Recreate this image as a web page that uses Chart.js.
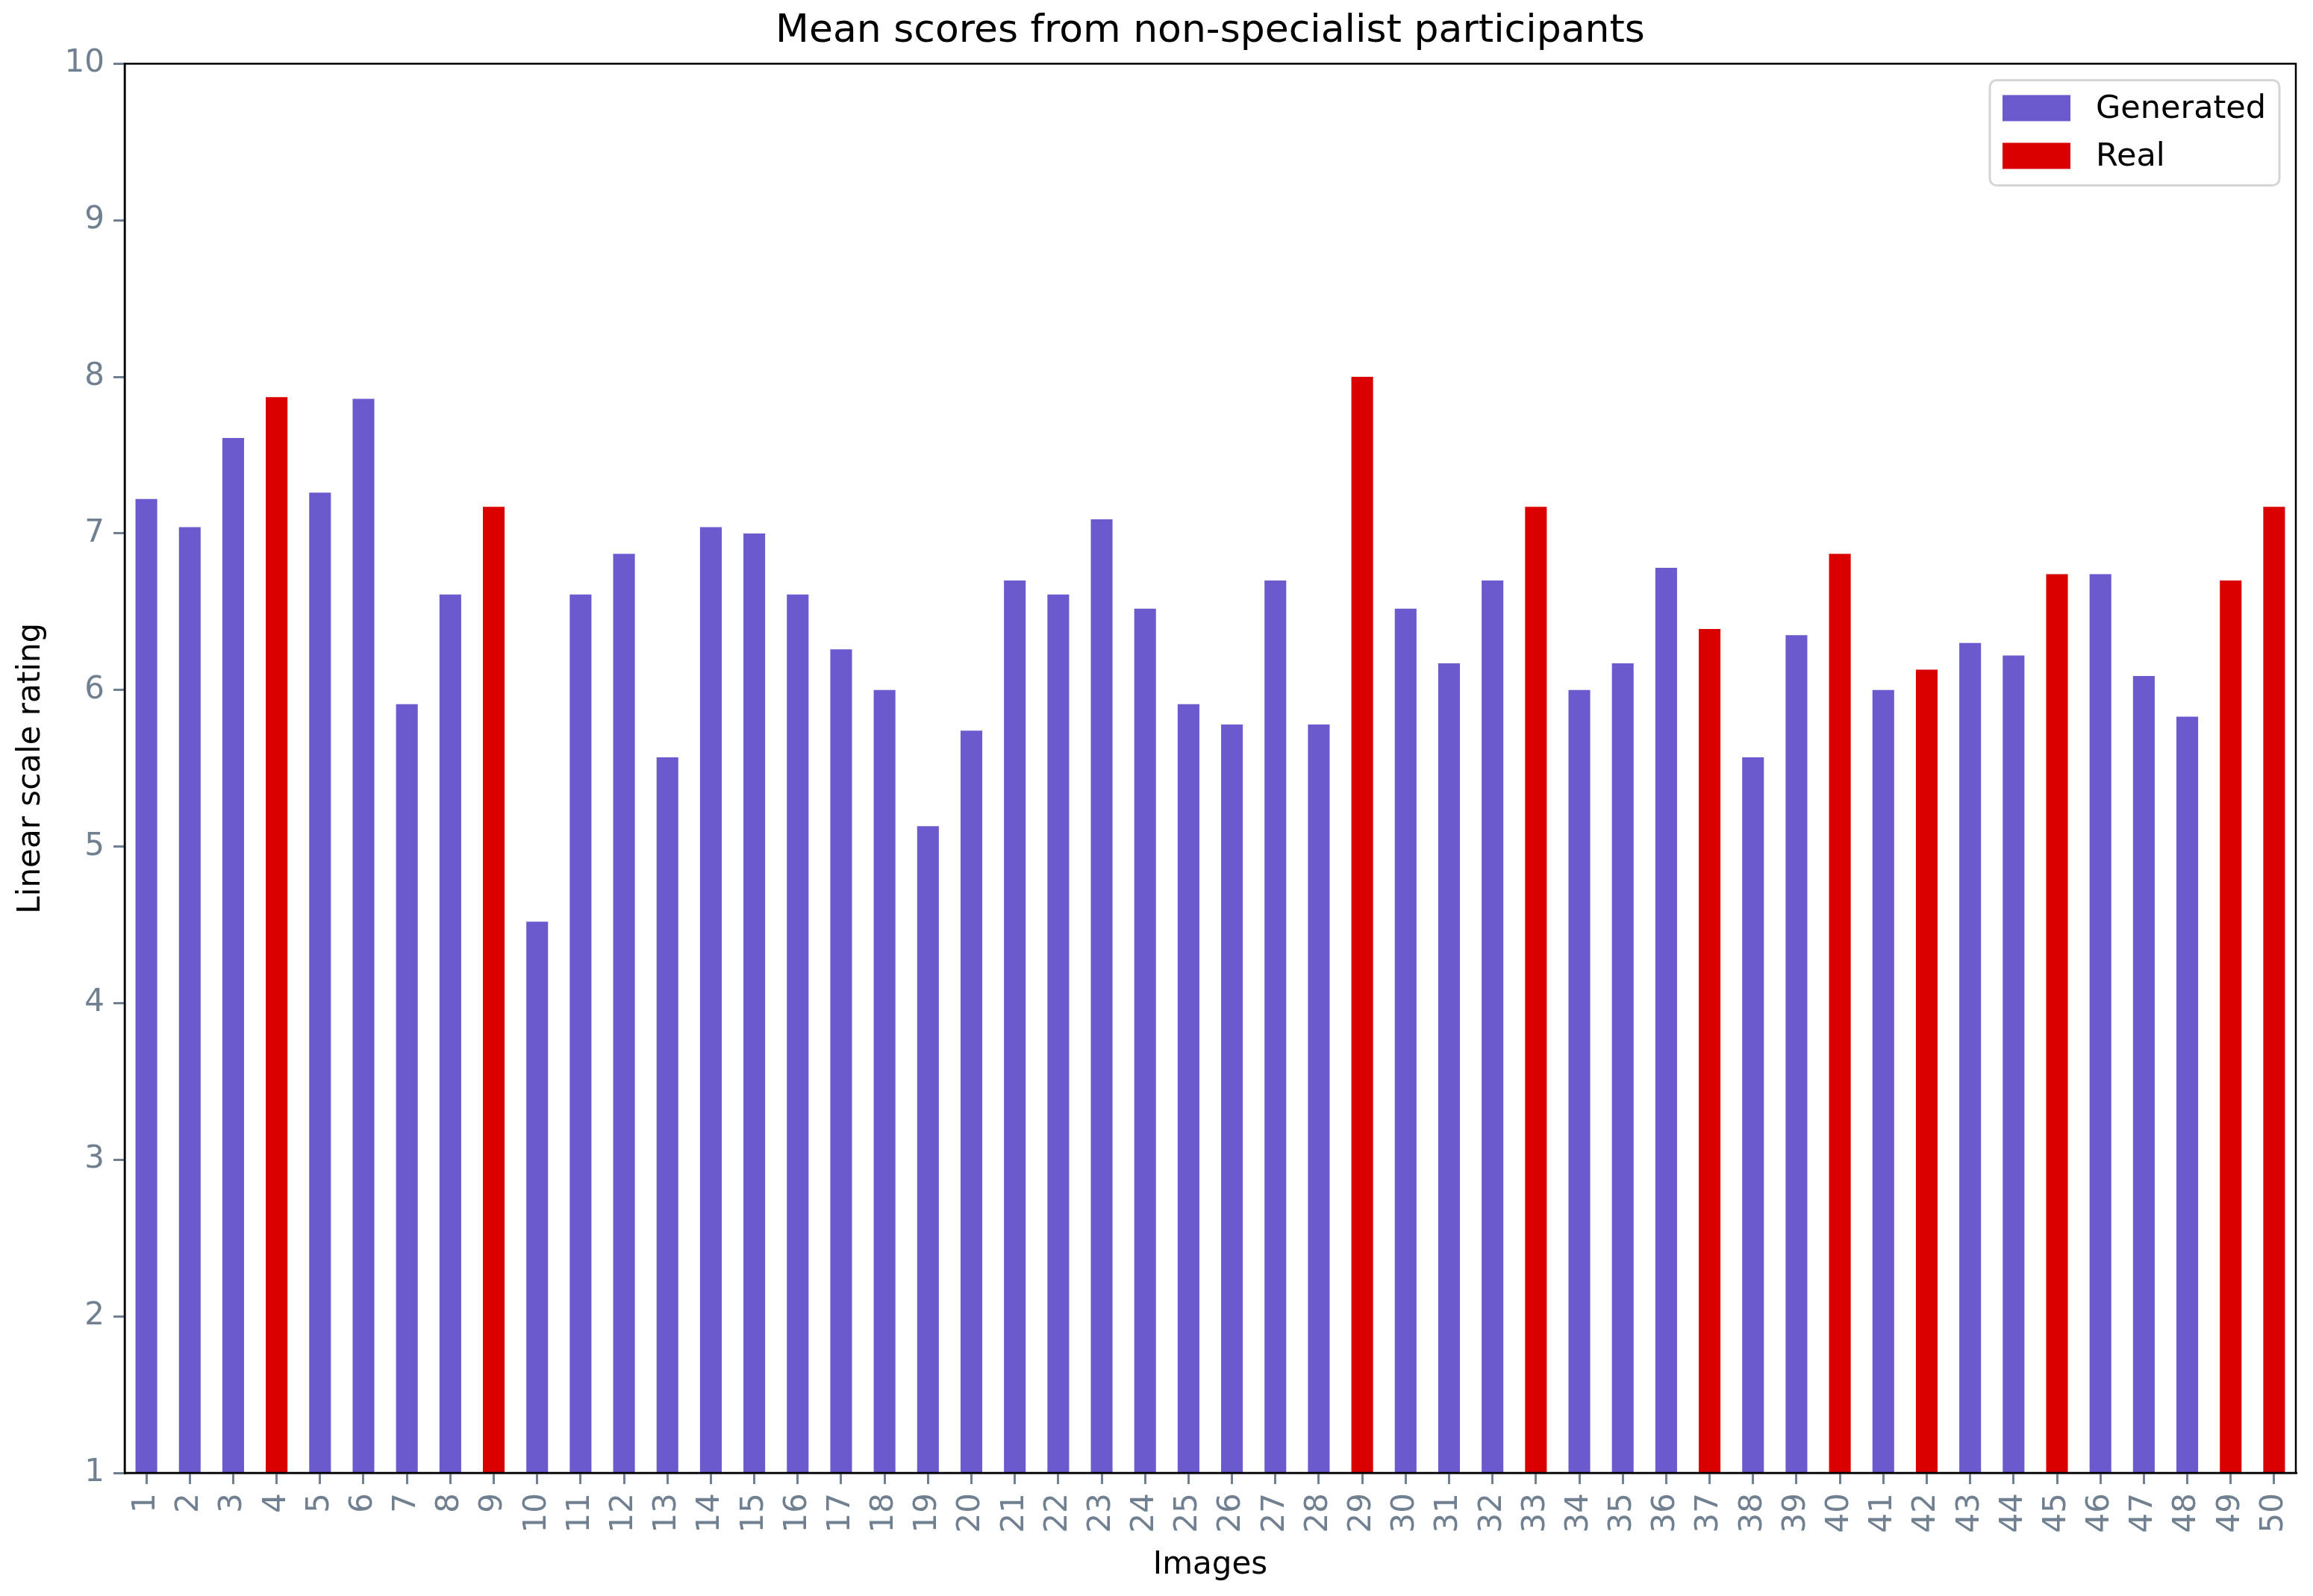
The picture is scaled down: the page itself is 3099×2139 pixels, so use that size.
<!DOCTYPE html>
<html>
<head>
<meta charset="utf-8">
<script src="https://cdn.jsdelivr.net/npm/chart.js@4/dist/chart.umd.min.js"></script>
<style>
html,body{margin:0;padding:0;background:#fff;}
#wrap{width:3099px;height:2139px;}
</style>
</head>
<body>
<div id="wrap"><canvas id="c" width="3099" height="2139"></canvas></div>
<script>
const categories = ['1','2','3','4','5','6','7','8','9','10','11','12','13','14','15','16','17','18','19','20','21','22','23','24','25','26','27','28','29','30','31','32','33','34','35','36','37','38','39','40','41','42','43','44','45','46','47','48','49','50'];

const generatedValues = [7.22,7.04,7.61,null,7.26,7.86,5.91,6.61,null,4.52,
  6.61,6.87,5.57,7.04,7.00,6.61,6.26,6.00,5.13,5.74,
  6.70,6.61,7.09,6.52,5.91,5.78,6.70,5.78,null,6.52,
  6.17,6.70,null,6.00,6.17,6.78,null,5.57,6.35,null,
  6.00,null,6.30,6.22,null,6.74,6.09,5.83,null,null];

const realValues = [null,null,null,7.87,null,null,null,null,7.17,null,
  null,null,null,null,null,null,null,null,null,null,
  null,null,null,null,null,null,null,null,8.00,null,
  null,null,7.17,null,null,null,6.39,null,null,6.87,
  null,6.13,null,null,6.74,null,null,null,6.70,7.17];

const yTicks = [1,2,3,4,5,6,7,8,9,10];

const FONT = "'DejaVu Sans', sans-serif";
const TICK_GREY = '#708090';

const titleOverAxes = {
  id: 'titleOverAxes',
  afterLayout(chart) {
    const t = chart.titleBlock;
    if (t) {
      t.left = chart.chartArea.left;
      t.right = chart.chartArea.right;
      t.width = t.right - t.left;
    }
  }
};

const framePlugin = {
  id: 'frame',
  afterDatasetsDraw(chart) {
    const a = chart.chartArea, ctx = chart.ctx;
    ctx.save();
    ctx.strokeStyle = '#000';
    ctx.lineWidth = 2.5;
    ctx.strokeRect(a.left, a.top, a.right - a.left, a.bottom - a.top);
    ctx.restore();
  }
};

const legendPlugin = {
  id: 'cornerLegend',
  afterDraw(chart) {
    const a = chart.chartArea, ctx = chart.ctx;
    const w = 388, h = 141;
    const x = a.right - 22 - w, y = a.top + 22;
    ctx.save();
    ctx.beginPath();
    if (ctx.roundRect) ctx.roundRect(x, y, w, h, 9); else ctx.rect(x, y, w, h);
    ctx.fillStyle = 'rgba(255,255,255,0.8)';
    ctx.fill();
    ctx.strokeStyle = '#d5d5d5';
    ctx.lineWidth = 3;
    ctx.stroke();
    ctx.font = '43px ' + FONT;
    ctx.textBaseline = 'middle';
    ctx.textAlign = 'left';
    chart.data.datasets.forEach((ds, i) => {
      const ry = y + 20 + i * 64;
      ctx.fillStyle = ds.backgroundColor;
      ctx.fillRect(x + 17, ry, 91, 35);
      ctx.fillStyle = '#000';
      ctx.fillText(ds.label, x + 142, ry + 19);
    });
    ctx.restore();
  }
};

new Chart(document.getElementById('c'), {
  type: 'bar',
  data: {
    labels: categories,
    datasets: [
      { label: 'Generated', data: generatedValues, backgroundColor: '#6A5ACD', grouped: false,
        barPercentage: 0.5, categoryPercentage: 1.0 },
      { label: 'Real', data: realValues, backgroundColor: '#DA0000', grouped: false,
        barPercentage: 0.5, categoryPercentage: 1.0 }
    ]
  },
  options: {
    responsive: false,
    animation: false,
    devicePixelRatio: 1,
    layout: { padding: { left: 0, right: 23, top: 0, bottom: 0 } },
    plugins: {
      legend: { display: false },
      tooltip: { enabled: false },
      title: {
        display: true,
        text: 'Mean scores from non-specialist participants',
        color: '#000',
        font: { family: FONT, size: 52, weight: 'normal', lineHeight: 1.2 },
        padding: { top: 11, bottom: 12 }
      }
    },
    scales: {
      x: {
        type: 'category',
        offset: true,
        grid: { drawOnChartArea: false, drawTicks: true, tickLength: 15, color: TICK_GREY, lineWidth: 3, offset: false },
        border: { display: true, color: '#000', width: 2.5 },
        ticks: {
          color: TICK_GREY,
          font: { family: FONT, size: 42 },
          minRotation: 90, maxRotation: 90,
          autoSkip: false,
          padding: 12
        },
        title: {
          display: true, text: 'Images', color: '#000',
          font: { family: FONT, size: 42 },
          padding: { top: 0, bottom: 16 }
        },
        afterFit(scale) { scale.height = 165; scale.paddingLeft = 0; scale.paddingRight = 0; }
      },
      y: {
        min: 1, max: 10,
        afterBuildTicks(scale) { scale.ticks = yTicks.map(v => ({ value: v })); },
        grid: { drawOnChartArea: false, drawTicks: true, tickLength: 15, color: TICK_GREY, lineWidth: 3 },
        border: { display: true, color: '#000', width: 2.5 },
        ticks: {
          color: TICK_GREY,
          font: { family: FONT, size: 42 },
          padding: 12
        },
        title: {
          display: true, text: 'Linear scale rating', color: '#000',
          font: { family: FONT, size: 42 },
          padding: { top: 17, bottom: 0 }
        },
        afterFit(scale) { scale.width = 167; scale.paddingTop = 0; scale.paddingBottom = 0; }
      }
    }
  },
  plugins: [titleOverAxes, framePlugin, legendPlugin]
});
</script>
</body>
</html>
